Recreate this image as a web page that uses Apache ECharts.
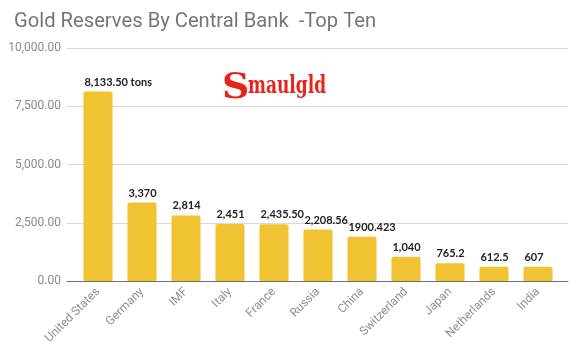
<!DOCTYPE html>
<html>
<head>
<meta charset="utf-8">
<script src="https://cdn.jsdelivr.net/npm/echarts@6/dist/echarts.min.js"></script>
<style>
html,body{margin:0;padding:0;background:#fff;}
#chart{width:579px;height:357px;}
</style>
</head>
<body>
<div id="chart"></div>
<script>
const categories = ['United States','Germany','IMF','Italy','France','Russia','China','Switzerland','Japan','Netherlands','India'];
const values = [8133.5, 3370, 2814, 2451, 2435.5, 2208.56, 1900.423, 1040, 765.2, 612.5, 607];
const valueLabels = ['8,133.50 tons','3,370','2,814','2,451','2,435.50','2,208.56','1900.423','1,040','765.2','612.5','607'];
const yTicks = [0, 2500, 5000, 7500, 10000];
const yTickLabels = ['0.00','2,500.00','5,000.00','7,500.00','10,000.00'];

const chart = echarts.init(document.getElementById('chart'), null, {renderer:'canvas'});
chart.setOption({
  animation: false,
  backgroundColor: '#ffffff',
  title: {
    text: 'Gold Reserves By Central Bank  -Top Ten',
    left: 9, top: 7,
    textStyle: {fontFamily: 'Roboto', fontSize: 20.2, fontWeight: 'normal', color: '#757575'}
  },
  grid: [
    {left: 76, right: 19, top: 48, bottom: 76},
    {left: 67, right: 11, top: 48, bottom: 76}
  ],
  xAxis: [
    {
      type: 'category', gridIndex: 0, data: categories,
      axisLine: {show: false}, axisTick: {show: false},
      axisLabel: {rotate: 45, margin: 9, interval: 0, color: '#8f8f8f', fontFamily: 'Roboto', fontSize: 12}
    },
    {
      type: 'value', gridIndex: 1, min: 0, max: 1,
      axisLine: {show: true, lineStyle: {color: '#6e6e6e', width: 1}},
      axisTick: {show: false}, axisLabel: {show: false}, splitLine: {show: false}
    }
  ],
  yAxis: [
    {
      type: 'value', gridIndex: 0, min: yTicks[0], max: yTicks[yTicks.length-1], interval: 2500,
      axisLine: {show: false}, axisTick: {show: false}, axisLabel: {show: false}, splitLine: {show: false}
    },
    {
      type: 'value', gridIndex: 1, min: yTicks[0], max: yTicks[yTicks.length-1], interval: 2500,
      axisLine: {show: false}, axisTick: {show: false},
      axisLabel: {
        margin: 6, color: '#8a8a8a', fontFamily: 'Roboto', fontSize: 12,
        formatter: function (v) { const i = yTicks.indexOf(v); return i >= 0 ? yTickLabels[i] : ''; }
      },
      splitLine: {lineStyle: {color: '#d9d9d9', width: 1}}
    }
  ],
  graphic: [
    {
      type: 'group', left: 221, top: 66, z: 100,
      children: [
        {type: 'rect', shape: {x: 0, y: 0, width: 117, height: 42}, style: {fill: '#ffffff'}},
        {type: 'text', x: 1, y: 5, scaleX: 1.05, style: {text: 'S', fill: '#e8231a', font: 'bold 36px "DejaVu Serif"'}},
        {type: 'text', x: 27, y: 8, scaleX: 0.68, style: {text: 'maulgld', fill: '#e8231a', font: 'bold 25px "DejaVu Serif"'}}
      ]
    }
  ],
  series: [{
    type: 'bar', xAxisIndex: 0, yAxisIndex: 0,
    data: values,
    barCategoryGap: '34%',
    itemStyle: {color: '#f1c232', borderRadius: [2,2,0,0]},
    label: {
      show: true, position: [1, -4], verticalAlign: 'bottom', align: 'left',
      fontFamily: 'Lato', fontWeight: 'bold', fontSize: 11, color: '#222222',
      formatter: function (p) { return valueLabels[p.dataIndex]; }
    }
  }]
});
</script>
</body>
</html>
